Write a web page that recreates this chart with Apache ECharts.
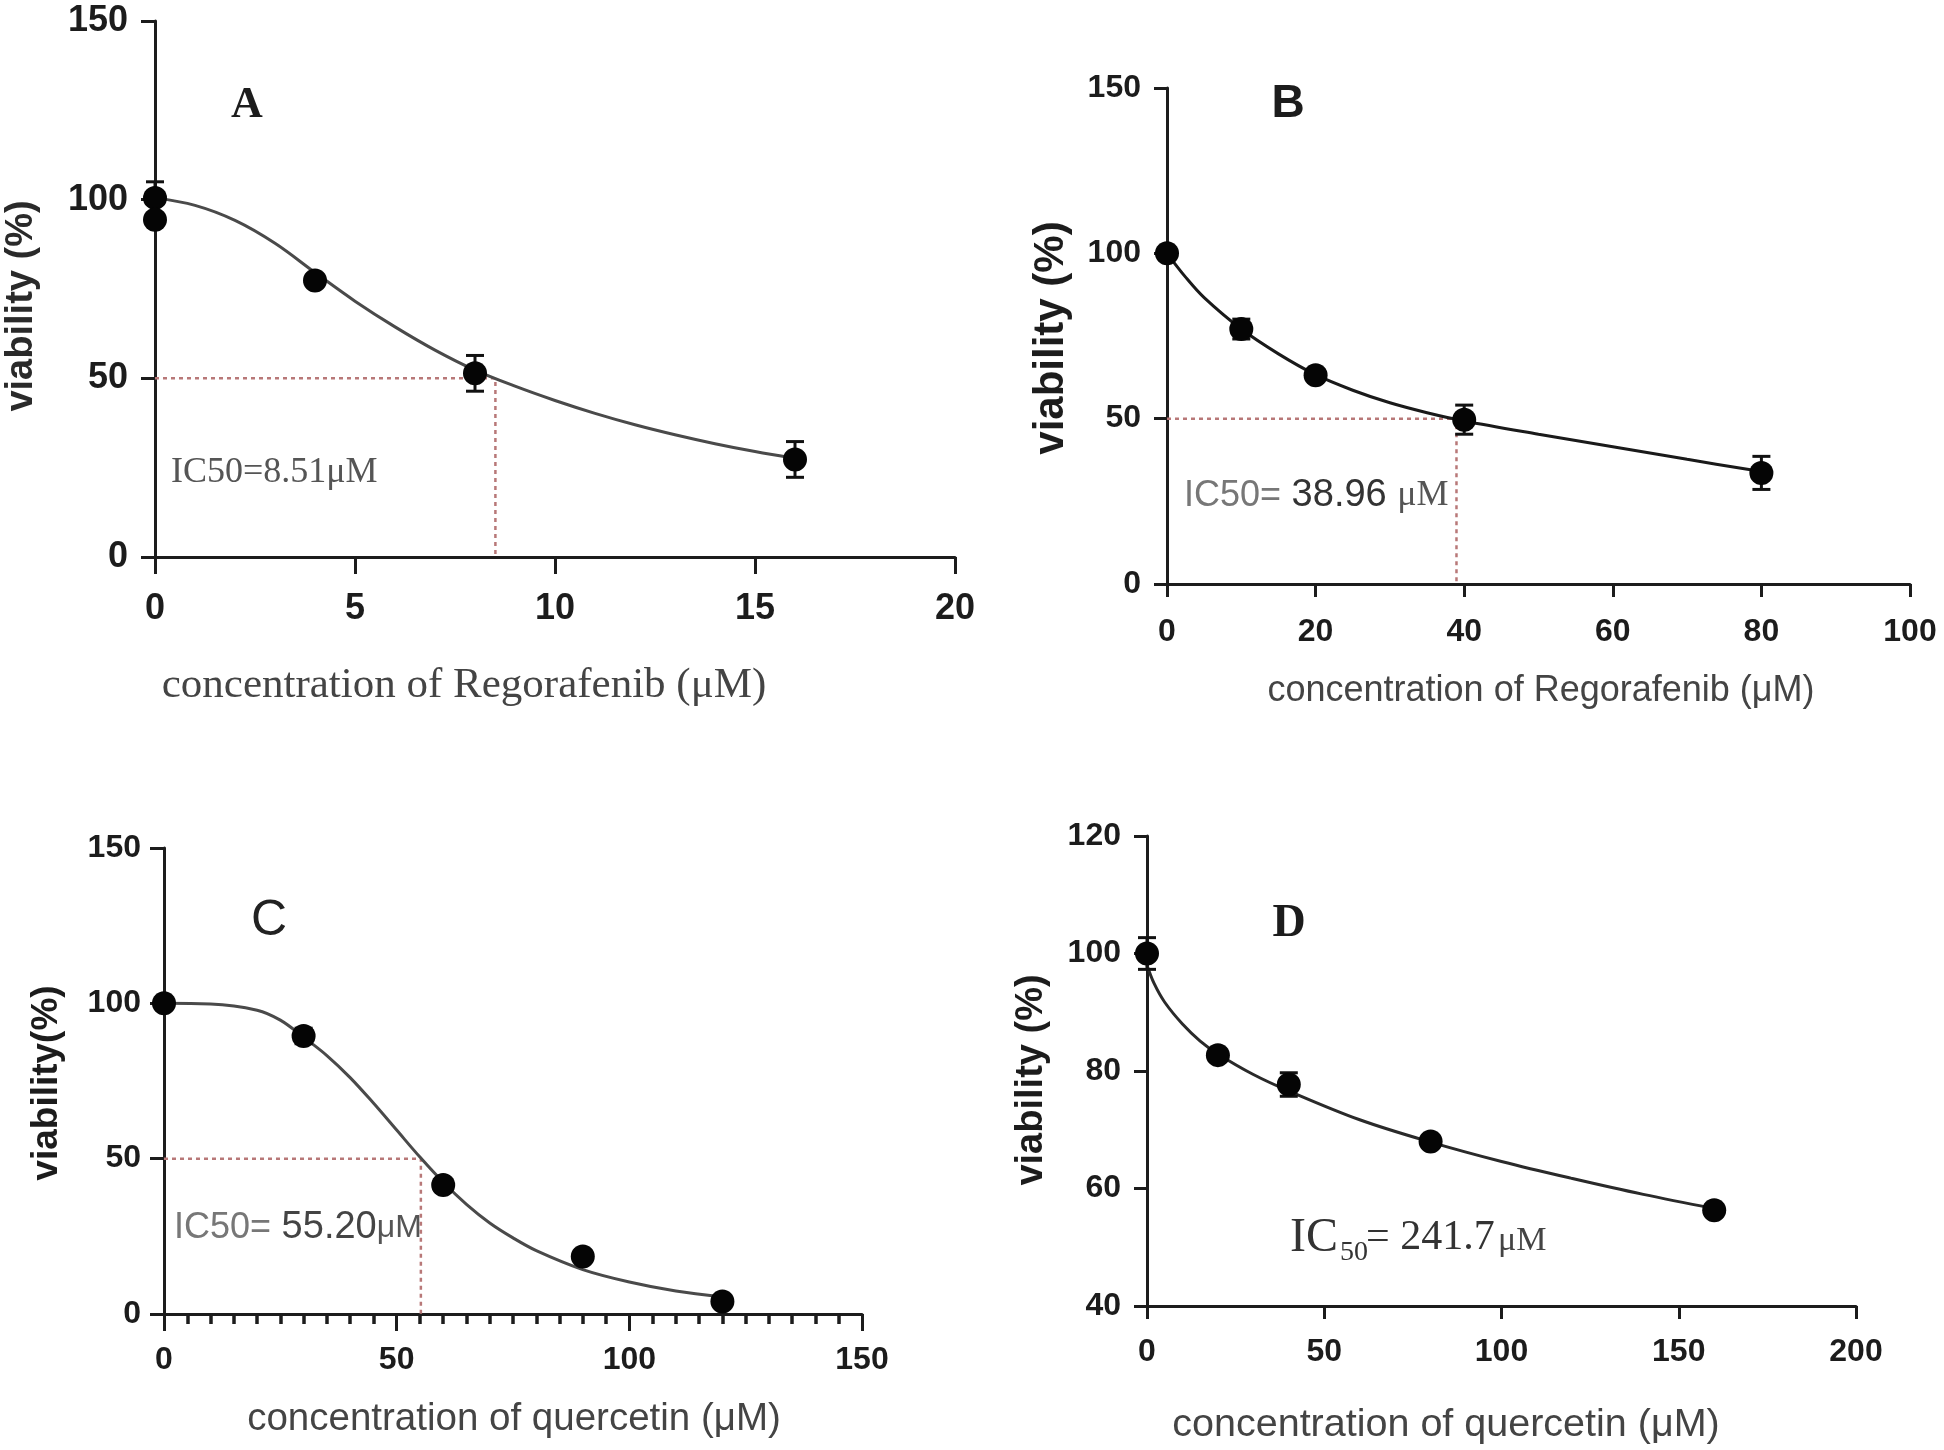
<!DOCTYPE html>
<html><head><meta charset="utf-8">
<script src="https://cdn.jsdelivr.net/npm/echarts@6/dist/echarts.min.js"></script>
<style>html,body{margin:0;padding:0;background:#fff;}#c{width:1944px;height:1450px;}</style>
</head><body><div id="c"></div>
<script>
// ---------- data ----------
// Panel A: Regorafenib, cell line 1
const ptsXA = [0, 0, 4, 8, 16];
const ptsYA = [100.5, 94.4, 77.4, 51.4, 27.3];
const errA  = [4.5, 0, 1.5, 5, 5];
const fitXA = [0,1,2,3,4,5,6,7,8,9,10,11,12,13,14,15,16];
const fitYA = [100.5,98.4,94.2,87.8,79.6,71.6,64.4,57.9,52.3,47.8,43.8,40.2,37.0,34.2,31.7,29.5,27.6];
// Panel B: Regorafenib, cell line 2
const ptsXB = [0, 10, 20, 40, 80];
const ptsYB = [100, 77.1, 63.1, 49.7, 33.6];
const errB  = [1.5, 3, 1.5, 4.4, 5];
const fitXB = [0,2.5,5,10,15,20,25,30,35,40,50,60,70,80];
const fitYB = [100,92.8,86.6,77.1,69.6,63.3,58.6,54.8,51.8,49.3,45.3,41.5,37.7,34.0];
// Panel C: quercetin, cell line 1
const ptsXC = [0, 30, 60, 90, 120];
const ptsYC = [100, 89.5, 41.5, 18.5, 4];
const errC  = [1.5, 2.5, 1.5, 1.5, 1.5];
const fitXC = [0,10,20,25,30,35,40,45,50,55,60,65,70,75,80,90,100,110,120];
const fitYC = [100,99.8,97.8,94.6,89.1,83.2,76.1,67.9,59.2,50.5,42.4,35.3,29.3,24.5,20.4,14.3,10.3,7.4,5.5];
// Panel D: quercetin, cell line 2
const ptsXD = [0, 20, 40, 80, 160];
const ptsYD = [100, 82.7, 77.7, 68, 56.3];
const errD  = [2.7, 1, 2, 1, 1];
const fitXD = [0,2,5,10,15,20,30,40,60,80,100,120,140,160];
const fitYD = [98,94.9,91.7,88,85.1,82.9,79.4,76.6,71.7,67.9,64.6,61.7,59,56.6];
// IC50 values (guide lines) for A, B, C
const ic50 = [8.51, 38.96, 55.20];
// axis ranges [min, max, interval]
const xRanges = [[0,20,5],[0,100,20],[0,150,50],[0,200,50]];
const yRanges = [[0,150,50],[0,150,50],[0,150,50],[40,120,20]];

// ---------- layout ----------
const SANS = 'Liberation Sans, Arial, sans-serif';
const SERIF = 'Liberation Serif, Times New Roman, serif';
const grids = [
  {left:155, top:21, width:800, height:536},
  {left:1167, top:88, width:743, height:496},
  {left:164, top:848, width:698, height:466},
  {left:1147, top:836, width:709, height:470}
];
const tickFs = [36, 32, 32, 32];
const xMargin = [34, 32, 30, 30];
const yMargin = [27, 26, 23, 26];
const tickLen = [17, 13, 17, 13];

const zip = (a,b)=>a.map((v,i)=>[v,b[i]]);
const zip3 = (a,b,c)=>a.map((v,i)=>[v,b[i],c[i]]);

const xAxes = [], yAxes = [];
for (let i=0;i<4;i++){
  const axisLine = {show:true, onZero:false, lineStyle:{color:'#1c1c1c', width:3}};
  xAxes.push({
    gridIndex:i, type:'value', min:xRanges[i][0], max:xRanges[i][1], interval:xRanges[i][2],
    axisLine, axisTick:{show:true, inside:false, length:tickLen[i], lineStyle:{color:'#1c1c1c', width:3}},
    minorTick: i===2 ? {show:true, splitNumber:10, length:10, lineStyle:{color:'#1c1c1c', width:3.5}} : {show:false},
    splitLine:{show:false}, minorSplitLine:{show:false},
    axisLabel:{margin:xMargin[i], fontSize:tickFs[i], fontWeight:'bold', color:'#1c1c1c', fontFamily:SANS}
  });
  yAxes.push({
    gridIndex:i, type:'value', min:yRanges[i][0], max:yRanges[i][1], interval:yRanges[i][2],
    axisLine, axisTick:{show:true, inside:false, length:Math.min(tickLen[i],14), lineStyle:{color:'#1c1c1c', width:3}},
    splitLine:{show:false},
    axisLabel:{margin:yMargin[i], fontSize:tickFs[i], fontWeight:'bold', color:'#1c1c1c', fontFamily:SANS}
  });
}

function errSeries(i, data){
  return {
    type:'custom', xAxisIndex:i, yAxisIndex:i, data, z:3, silent:true,
    encode:{x:0, y:1},
    renderItem(params, api){
      const x = api.value(0), y = api.value(1), e = api.value(2);
      if (!e) return null;
      const t = api.coord([x, y+e]), b = api.coord([x, y-e]);
      const w = 9;
      const st = {stroke:'#111', lineWidth:3};
      return {type:'group', children:[
        {type:'line', shape:{x1:t[0], y1:t[1], x2:b[0], y2:b[1]}, style:st},
        {type:'line', shape:{x1:t[0]-w, y1:t[1], x2:t[0]+w, y2:t[1]}, style:st},
        {type:'line', shape:{x1:b[0]-w, y1:b[1], x2:b[0]+w, y2:b[1]}, style:st}
      ]};
    }
  };
}
function fitSeries(i, xs, ys, color){
  return {type:'line', xAxisIndex:i, yAxisIndex:i, data:zip(xs,ys), smooth:0.35, showSymbol:false,
    symbol:'none', silent:true, z:2, lineStyle:{color, width:3}};
}
function ptSeries(i, xs, ys){
  return {type:'scatter', xAxisIndex:i, yAxisIndex:i, data:zip(xs,ys), symbol:'circle', symbolSize:24,
    itemStyle:{color:'#050505', opacity:1}, z:4, silent:true};
}
function guideSeries(i, ic){
  return {type:'line', xAxisIndex:i, yAxisIndex:i, data:[[0,50],[ic,50],[ic,0]], symbol:'none', silent:true, z:1,
    lineStyle:{color:'#b87878', width:2.5, type:[4,4]}};
}

const series = [
  guideSeries(0, ic50[0]), guideSeries(1, ic50[1]), guideSeries(2, ic50[2]),
  fitSeries(0, fitXA, fitYA, '#4a4a4a'), fitSeries(1, fitXB, fitYB, '#1a1a1a'),
  fitSeries(2, fitXC, fitYC, '#4a4a4a'), fitSeries(3, fitXD, fitYD, '#2a2a2a'),
  errSeries(0, zip3(ptsXA, ptsYA, errA)), errSeries(1, zip3(ptsXB, ptsYB, errB)),
  errSeries(2, zip3(ptsXC, ptsYC, errC)), errSeries(3, zip3(ptsXD, ptsYD, errD)),
  ptSeries(0, ptsXA, ptsYA), ptSeries(1, ptsXB, ptsYB), ptSeries(2, ptsXC, ptsYC), ptSeries(3, ptsXD, ptsYD)
];

function txt(x, y, text, fs, opts){
  opts = opts || {};
  return {type:'text', x, y, rotation: opts.rot || 0, z:10, silent:true,
    style:{text, fontSize:fs, fontFamily:opts.ff || SANS, fontWeight:opts.fw || 'normal',
      fill:opts.color || '#1c1c1c', align:opts.align || 'center', verticalAlign:'middle',
      rich: opts.rich}};
}
const R90 = Math.PI/2;
const graphic = [
  // panel letters
  txt(247, 106, 'A', 44, {ff:SERIF, fw:'bold'}),
  txt(1288, 104, 'B', 46, {fw:'bold'}),
  txt(269, 921, 'C', 50, {color:'#222'}),
  txt(1289, 924, 'D', 46, {ff:SERIF, fw:'bold'}),
  // y axis titles
  txt(22, 306, 'viability (%)', 38, {fw:'bold', rot:R90, color:'#2a2a2a'}),
  txt(1051, 338, 'viability (%)', 42, {fw:'bold', rot:R90}),
  txt(47, 1083, 'viability(%)', 37, {fw:'bold', rot:R90}),
  txt(1032, 1080, 'viability (%)', 38, {fw:'bold', rot:R90}),
  // x axis titles
  txt(464, 686, 'concentration of Regorafenib (μM)', 43, {ff:SERIF, color:'#444'}),
  txt(1541, 691, 'concentration of Regorafenib (μM)', 36, {color:'#444'}),
  txt(514, 1419, 'concentration of quercetin (μM)', 38.5, {color:'#444'}),
  txt(1446, 1425, 'concentration of quercetin (μM)', 39.5, {color:'#444'}),
  // IC50 annotations
  txt(171, 473, 'IC50=8.51μM', 36, {ff:SERIF, color:'#555', align:'left'}),
  txt(1184, 496, '{a|IC50=}{b| 38.96 }{c|μM}', 36, {align:'left', rich:{
    a:{fontSize:36, fontFamily:SANS, fill:'#777'},
    b:{fontSize:38, fontFamily:SANS, fill:'#333'},
    c:{fontSize:36, fontFamily:SERIF, fill:'#555'}}}),
  txt(174, 1228, '{a|IC50=}{b| 55.20}{c|μM}', 36, {align:'left', rich:{
    a:{fontSize:36, fontFamily:SANS, fill:'#777'},
    b:{fontSize:38, fontFamily:SANS, fill:'#444'},
    c:{fontSize:32, fontFamily:SANS, fill:'#555'}}}),
  txt(1290, 1238, 'IC', 48, {ff:SERIF, color:'#333', align:'left'}),
  txt(1340, 1253, '50', 28, {ff:SERIF, color:'#333', align:'left'}),
  txt(1366, 1238, '= 241.7', 42, {ff:SERIF, color:'#333', align:'left'}),
  txt(1498, 1241, 'μM', 34, {ff:SERIF, color:'#444', align:'left'})
];

const chart = echarts.init(document.getElementById('c'), null, {renderer:'canvas'});
chart.setOption({
  animation:false, backgroundColor:'#ffffff',
  grid: grids.map(g=>Object.assign({containLabel:false}, g)),
  xAxis:xAxes, yAxis:yAxes, series, graphic
});
</script></body></html>
